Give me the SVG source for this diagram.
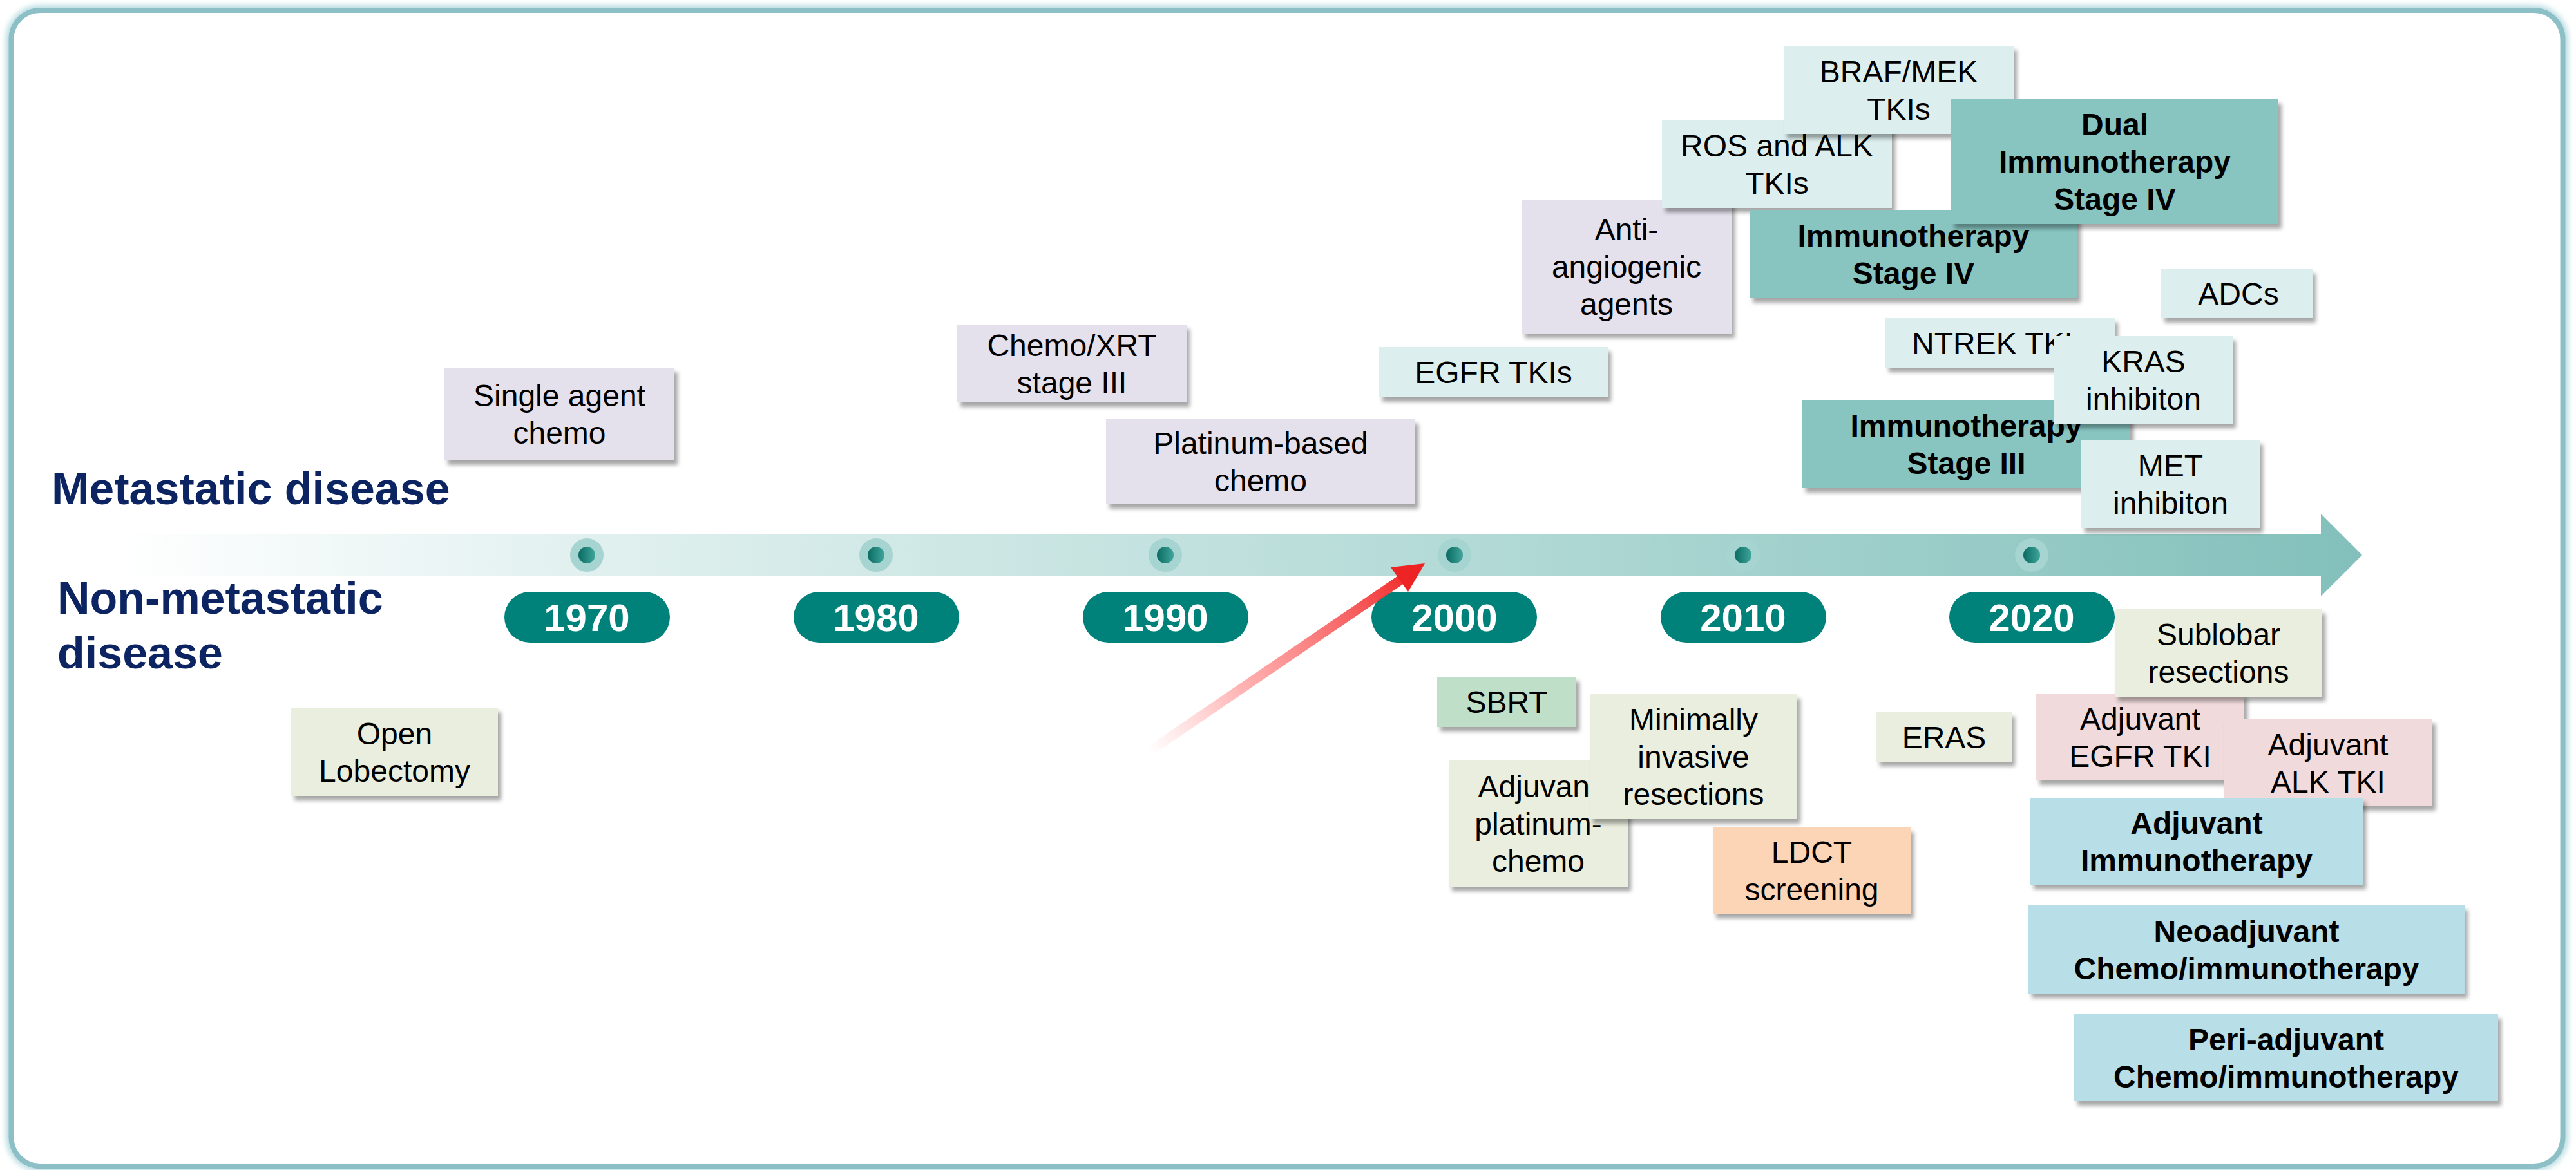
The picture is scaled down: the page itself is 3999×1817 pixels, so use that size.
<svg xmlns="http://www.w3.org/2000/svg" width="3999" height="1817" viewBox="0 0 3999 1817">
<style>
.t{font-family:"Liberation Sans",Arial,sans-serif;font-size:48px;fill:#000;text-anchor:middle}
.b{font-weight:bold}
.yr{font-family:"Liberation Sans",Arial,sans-serif;font-size:60px;font-weight:bold;fill:#fff;text-anchor:middle}
.lbl{font-family:"Liberation Sans",Arial,sans-serif;font-size:70px;font-weight:bold;fill:#0c2461}
.lav{fill:#e4e0ec}
.cyn{fill:#ddeeee}
.tea{fill:#88c5c1}
.bei{fill:#eaeede}
.grn{fill:#bfdfc8}
.pch{fill:#fbd5b6}
.pnk{fill:#f0dadb}
.blu{fill:#b8dee7}
.box{filter:url(#sh)}
.pill{fill:#00827a}
.ring{fill:#a6d4d0}
.dot{fill:url(#dotg)}
</style>
<defs>
<filter id="sh" x="-10%" y="-10%" width="130%" height="140%">
<feDropShadow dx="5" dy="7" stdDeviation="3" flood-color="#000" flood-opacity="0.35"/>
</filter>
<filter id="glow" x="-2%" y="-2%" width="104%" height="104%">
<feGaussianBlur stdDeviation="4"/>
</filter>
<linearGradient id="band" gradientUnits="userSpaceOnUse" x1="180" y1="0" x2="3667" y2="0">
<stop offset="0" stop-color="#ffffff"/>
<stop offset="0.2" stop-color="#e2f1f0"/>
<stop offset="0.6" stop-color="#b3dad6"/>
<stop offset="1" stop-color="#83c0bb"/>
</linearGradient>
<linearGradient id="dotg" x1="0" y1="0" x2="1" y2="0">
<stop offset="0" stop-color="#0a6b63"/>
<stop offset="1" stop-color="#40a59b"/>
</linearGradient>
<linearGradient id="red" gradientUnits="userSpaceOnUse" x1="1784" y1="1167" x2="2200" y2="883">
<stop offset="0" stop-color="#ff9a9a" stop-opacity="0"/>
<stop offset="0.35" stop-color="#ff9090" stop-opacity="0.7"/>
<stop offset="1" stop-color="#f02222"/>
</linearGradient>
</defs>
<rect width="3999" height="1817" fill="#fff"/>
<g id="frame">
<rect x="17" y="16" width="3962" height="1795" rx="45" fill="none" stroke="#b9dde1" stroke-width="16" filter="url(#glow)"/>
<rect x="17.5" y="16" width="3961" height="1795" rx="45" fill="#fff" stroke="#8cbfc6" stroke-width="8"/>
</g>
<g id="timeline">
<polygon points="180,830 3603,830 3603,798 3667,862 3603,926 3603,895 180,895" fill="url(#band)"/>
<g id="dots">
<circle class="ring" cx="911" cy="862" r="26"/><circle class="dot" cx="911" cy="862" r="13"/>
<circle class="ring" cx="1360" cy="862" r="26"/><circle class="dot" cx="1360" cy="862" r="13"/>
<circle class="ring" cx="1809" cy="862" r="26"/><circle class="dot" cx="1809" cy="862" r="13"/>
<circle class="ring" cx="2258" cy="862" r="26"/><circle class="dot" cx="2258" cy="862" r="13"/>
<circle class="ring" cx="2706" cy="862" r="26"/><circle class="dot" cx="2706" cy="862" r="13"/>
<circle class="ring" cx="3154" cy="862" r="26"/><circle class="dot" cx="3154" cy="862" r="13"/>
</g>
</g>
<g id="y1970"><rect class="pill" x="783" y="919" width="257" height="79" rx="39.5"/><text class="yr" x="911" y="980">1970</text></g>
<g id="y1980"><rect class="pill" x="1232" y="919" width="257" height="79" rx="39.5"/><text class="yr" x="1360" y="980">1980</text></g>
<g id="y1990"><rect class="pill" x="1681" y="919" width="257" height="79" rx="39.5"/><text class="yr" x="1809" y="980">1990</text></g>
<g id="y2000"><rect class="pill" x="2129" y="919" width="257" height="79" rx="39.5"/><text class="yr" x="2258" y="980">2000</text></g>
<g id="y2010"><rect class="pill" x="2578" y="919" width="257" height="79" rx="39.5"/><text class="yr" x="2706" y="980">2010</text></g>
<g id="y2020"><rect class="pill" x="3026" y="919" width="257" height="79" rx="39.5"/><text class="yr" x="3154" y="980">2020</text></g>
<g id="labels">
<text class="lbl" x="80" y="783">Metastatic disease</text>
<text class="lbl" x="89" y="953">Non-metastatic</text>
<text class="lbl" x="89" y="1038">disease</text>
</g>
<g id="single"><rect class="box lav" x="690" y="571" width="357" height="144"/><text class="t"><tspan x="868.5" y="631">Single agent</tspan><tspan x="868.5" y="689">chemo</tspan></text></g>
<g id="chemoxrt"><rect class="box lav" x="1486" y="504" width="356" height="121"/><text class="t"><tspan x="1664" y="552.5">Chemo/XRT</tspan><tspan x="1664" y="610.5">stage III</tspan></text></g>
<g id="platinum"><rect class="box lav" x="1717" y="651" width="480" height="132"/><text class="t"><tspan x="1957" y="705">Platinum-based</tspan><tspan x="1957" y="763">chemo</tspan></text></g>
<g id="egfr"><rect class="box cyn" x="2141" y="539" width="355" height="78"/><text class="t" x="2318.5" y="595">EGFR TKIs</text></g>
<g id="anti"><rect class="box lav" x="2362" y="310" width="326" height="208"/><text class="t"><tspan x="2525" y="373">Anti-</tspan><tspan x="2525" y="431">angiogenic</tspan><tspan x="2525" y="489">agents</tspan></text></g>
<g id="ros"><rect class="box cyn" x="2580" y="187" width="357" height="136"/><text class="t"><tspan x="2758.5" y="243">ROS and ALK</tspan><tspan x="2758.5" y="301">TKIs</tspan></text></g>
<g id="braf"><rect class="box cyn" x="2769" y="71" width="357" height="137"/><text class="t"><tspan x="2947.5" y="127.5">BRAF/MEK</tspan><tspan x="2947.5" y="185.5">TKIs</tspan></text></g>
<g id="immunoIV"><rect class="box tea" x="2716" y="326" width="509" height="137"/><text class="t b"><tspan x="2970.5" y="382.5">Immunotherapy</tspan><tspan x="2970.5" y="440.5">Stage IV</tspan></text></g>
<g id="dual"><rect class="box tea" x="3029" y="154" width="508" height="194"/><text class="t b"><tspan x="3283" y="210">Dual</tspan><tspan x="3283" y="268">Immunotherapy</tspan><tspan x="3283" y="326">Stage IV</tspan></text></g>
<g id="adcs"><rect class="box cyn" x="3355" y="418" width="235" height="76"/><text class="t" x="3475" y="473">ADCs</text></g>
<g id="ntrek"><rect class="box cyn" x="2927" y="494" width="356" height="77"/><text class="t" x="3105" y="549.5">NTREK TKIs</text></g>
<g id="immunoIII"><rect class="box tea" x="2798" y="621" width="509" height="137"/><text class="t b"><tspan x="3052.5" y="677.5">Immunotherapy</tspan><tspan x="3052.5" y="735.5">Stage III</tspan></text></g>
<g id="kras"><rect class="box cyn" x="3189" y="522" width="277" height="136"/><text class="t"><tspan x="3327.5" y="578">KRAS</tspan><tspan x="3327.5" y="636">inhibiton</tspan></text></g>
<g id="met"><rect class="box cyn" x="3231" y="683" width="277" height="137"/><text class="t"><tspan x="3369.5" y="739.5">MET</tspan><tspan x="3369.5" y="797.5">inhibiton</tspan></text></g>
<g id="open"><rect class="box bei" x="452" y="1099" width="321" height="137"/><text class="t"><tspan x="612.5" y="1155.5">Open</tspan><tspan x="612.5" y="1213.5">Lobectomy</tspan></text></g>
<g id="sbrt"><rect class="box grn" x="2231" y="1051" width="216" height="78"/><text class="t" x="2339" y="1107">SBRT</text></g>
<g id="adjplat"><rect class="box bei" x="2249" y="1181" width="278" height="196"/><text class="t"><tspan x="2388" y="1238">Adjuvant</tspan><tspan x="2388" y="1296">platinum-</tspan><tspan x="2388" y="1354">chemo</tspan></text></g>
<g id="minimal"><rect class="box bei" x="2468" y="1078" width="322" height="194"/><text class="t"><tspan x="2629" y="1134">Minimally</tspan><tspan x="2629" y="1192">invasive</tspan><tspan x="2629" y="1250">resections</tspan></text></g>
<g id="ldct"><rect class="box pch" x="2659" y="1285" width="307" height="134"/><text class="t"><tspan x="2812.5" y="1340">LDCT</tspan><tspan x="2812.5" y="1398">screening</tspan></text></g>
<g id="eras"><rect class="box bei" x="2913" y="1106" width="210" height="77"/><text class="t" x="3018" y="1161.5">ERAS</text></g>
<g id="adjegfr"><rect class="box pnk" x="3161" y="1077" width="323" height="135"/><text class="t"><tspan x="3322.5" y="1132.5">Adjuvant</tspan><tspan x="3322.5" y="1190.5">EGFR TKI</tspan></text></g>
<g id="sublobar"><rect class="box bei" x="3283" y="946" width="322" height="136"/><text class="t"><tspan x="3444" y="1002">Sublobar</tspan><tspan x="3444" y="1060">resections</tspan></text></g>
<g id="adjalk"><rect class="box pnk" x="3452" y="1117" width="324" height="135"/><text class="t"><tspan x="3614" y="1172.5">Adjuvant</tspan><tspan x="3614" y="1230.5">ALK TKI</tspan></text></g>
<g id="adjimmuno"><rect class="box blu" x="3152" y="1239" width="516" height="135"/><text class="t b"><tspan x="3410" y="1294.5">Adjuvant</tspan><tspan x="3410" y="1352.5">Immunotherapy</tspan></text></g>
<g id="neo"><rect class="box blu" x="3149" y="1406" width="677" height="137"/><text class="t b"><tspan x="3487.5" y="1462.5">Neoadjuvant</tspan><tspan x="3487.5" y="1520.5">Chemo/immunotherapy</tspan></text></g>
<g id="peri"><rect class="box blu" x="3220" y="1575" width="658" height="135"/><text class="t b"><tspan x="3549" y="1630.5">Peri-adjuvant</tspan><tspan x="3549" y="1688.5">Chemo/immunotherapy</tspan></text></g>
<g id="connectors">
<line x1="1784" y1="1167" x2="2178" y2="898" stroke="url(#red)" stroke-width="15"/>
<polygon points="2212,875 2159,881 2186,919" fill="#ee2424"/>
</g>
</svg>
